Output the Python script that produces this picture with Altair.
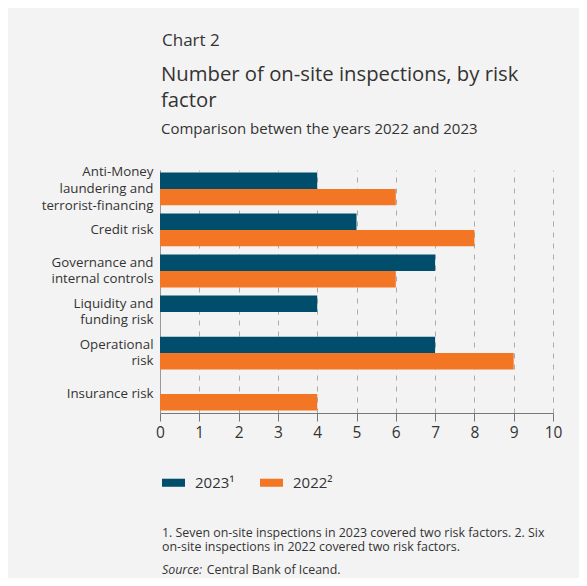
import altair as alt
import pandas as pd

categories = [
    "Anti-Money|laundering and|terrorist-financing",
    "Credit risk",
    "Governance and|internal controls",
    "Liquidity and|funding risk",
    "Operational|risk",
    "Insurance risk",
]
series = ["2023¹", "2022²"]
values_2023 = [4, 5, 7, 4, 7, 0]
values_2022 = [6, 8, 6, 0, 9, 4]
x_ticks = list(range(0, 11))

colors = ["#004e6b", "#f37625"]
FONT = "Open Sans"
TXT = "#333333"
BG = "#f3f3f3"
LH = 16.7

rows = []
for c, a, b in zip(categories, values_2023, values_2022):
    rows.append({"cat": c, "year": series[0], "value": a})
    rows.append({"cat": c, "year": series[1], "value": b})
df = pd.DataFrame(rows)

n_lines = "length(split(datum.label, '|'))"

bars = alt.Chart(df).mark_bar().encode(
    y=alt.Y(
        "cat:N",
        sort=categories,
        scale=alt.Scale(paddingInner=0.2, paddingOuter=0.06),
        axis=alt.Axis(
            title=None,
            labelExpr="split(datum.label, '|')",
            labelFontSize=13.3,
            labelLineHeight=LH,
            labelPadding=7,
            labelColor=TXT,
            labelFont=FONT,
            labelOffset={
                "condition": [
                    {"test": n_lines + " == 3", "value": -LH},
                    {"test": n_lines + " == 2", "value": -LH / 2},
                ],
                "value": 0,
            },
            ticks=False,
            domainColor="#999999",
            grid=False,
            labelLimit=300,
        ),
    ),
    yOffset=alt.YOffset("year:N", sort=series, scale=alt.Scale(paddingInner=0, paddingOuter=0)),
    x=alt.X(
        "value:Q",
        scale=alt.Scale(domain=[0, 10], nice=False),
        axis=alt.Axis(
            title=None,
            values=x_ticks,
            format="d",
            labelFontSize=15.5,
            labelFont=FONT,
            labelColor=TXT,
            labelPadding=4,
            labelFlush=False,
            tickSize=8,
            tickColor="#777777",
            domainColor="#777777",
            grid=True,
            gridColor="#aaaaaa",
            gridDash=[5, 6],
            gridWidth=1,
        ),
    ),
    color=alt.Color(
        "year:N",
        sort=series,
        scale=alt.Scale(domain=series, range=colors),
        legend=alt.Legend(
            title=None,
            orient="none",
            legendX=2,
            legendY=301,
            direction="horizontal",
            symbolType="M-1,-0.35H1V0.35H-1Z",
            symbolSize=529,
            symbolStrokeWidth=0,
            symbolOpacity=1,
            labelFontSize=15,
            labelFont=FONT,
            labelColor=TXT,
            labelOffset=10,
            columnPadding=25,
            padding=0,
        ),
    ),
)

one = alt.Data(values=[{}])


def txt(s, x, y, size, style="normal"):
    return alt.Chart(one).mark_text(
        align="left", baseline="alphabetic", font=FONT, fontSize=size,
        color=TXT, fontStyle=style,
    ).encode(x=alt.value(x), y=alt.value(y), text=alt.value(s))


texts = [
    txt("Chart 2", 2, -124.3, 17),
    txt("Number of on-site inspections, by risk", 1, -89, 20.3),
    txt("factor", 1, -63.3, 20.3),
    txt("Comparison betwen the years 2022 and 2023", 1, -35.7, 15),
    txt("1. Seven on-site inspections in 2023 covered two risk factors. 2. Six", 2, 366.5, 12.4),
    txt("on-site inspections in 2022 covered two risk factors.", 2, 380.7, 12.4),
    txt("Source:", 2, 404, 12.4, "italic"),
    txt("Central Bank of Iceand.", 46.7, 404, 12.4),
]

chart = alt.layer(bars, *texts).properties(
    width=393,
    height=243,
    autosize=alt.AutoSizeParams(type="none"),
    padding={"left": 152, "top": 162, "right": 26, "bottom": 165},
    background=BG,
).configure_view(stroke=None)

chart.save("out.html", embed_options={"renderer": "svg", "actions": False})
